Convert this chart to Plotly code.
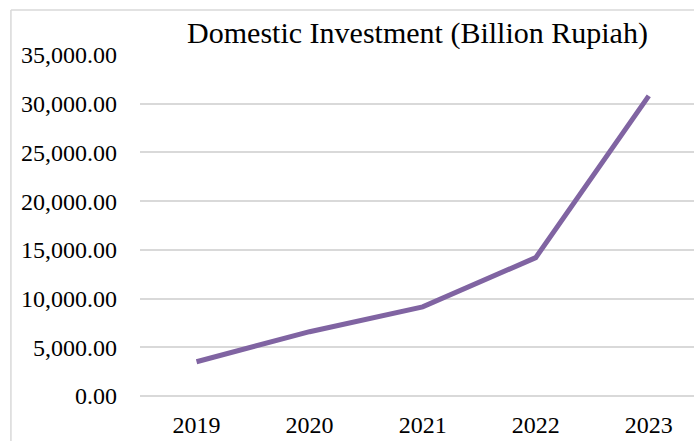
import plotly.graph_objects as go

years = ["2019", "2020", "2021", "2022", "2023"]
investment = [3520, 6600, 9150, 14200, 30800]
y_ticks = [0, 5000, 10000, 15000, 20000, 25000, 30000, 35000]

fig = go.Figure()
fig.add_trace(go.Scatter(
    x=years, y=investment, mode="lines",
    line=dict(color="#8064A2", width=5),
))

font = "Liberation Serif, Cambria, serif"
fig.update_layout(
    width=694, height=441,
    margin=dict(l=140, r=0, t=55, b=45),
    paper_bgcolor="white", plot_bgcolor="white",
    showlegend=False,
    title=dict(text="Domestic Investment (Billion Rupiah)",
               font=dict(family=font, size=30, color="#000000"),
               x=0.6016, xanchor="center", y=0.927, yanchor="middle"),
    xaxis=dict(type="category", range=[-0.5, 4.4], showgrid=False,
               showline=False, ticks="", zeroline=False,
               tickfont=dict(family=font, size=24, color="#000000"),
               ticklabelstandoff=12),
    yaxis=dict(range=[0, 35000], tickvals=y_ticks, tickformat=",.2f",
               showgrid=True, gridcolor="#D9D9D9", gridwidth=1.5,
               zeroline=True, zerolinecolor="#D9D9D9", zerolinewidth=1.5,
               showline=False, ticks="",
               tickfont=dict(family=font, size=24, color="#000000"),
               ticklabelstandoff=22),
)
fig.add_shape(type="line", xref="paper", yref="paper",
              x0=-0.233, x1=-0.233, y0=-0.2, y1=1.132,
              line=dict(color="#D9D9D9", width=1.5))
fig.add_shape(type="line", xref="paper", yref="paper",
              x0=-0.233, x1=1.1, y0=1.132, y1=1.132,
              line=dict(color="#D9D9D9", width=1.5))
fig.write_html("out.html")
